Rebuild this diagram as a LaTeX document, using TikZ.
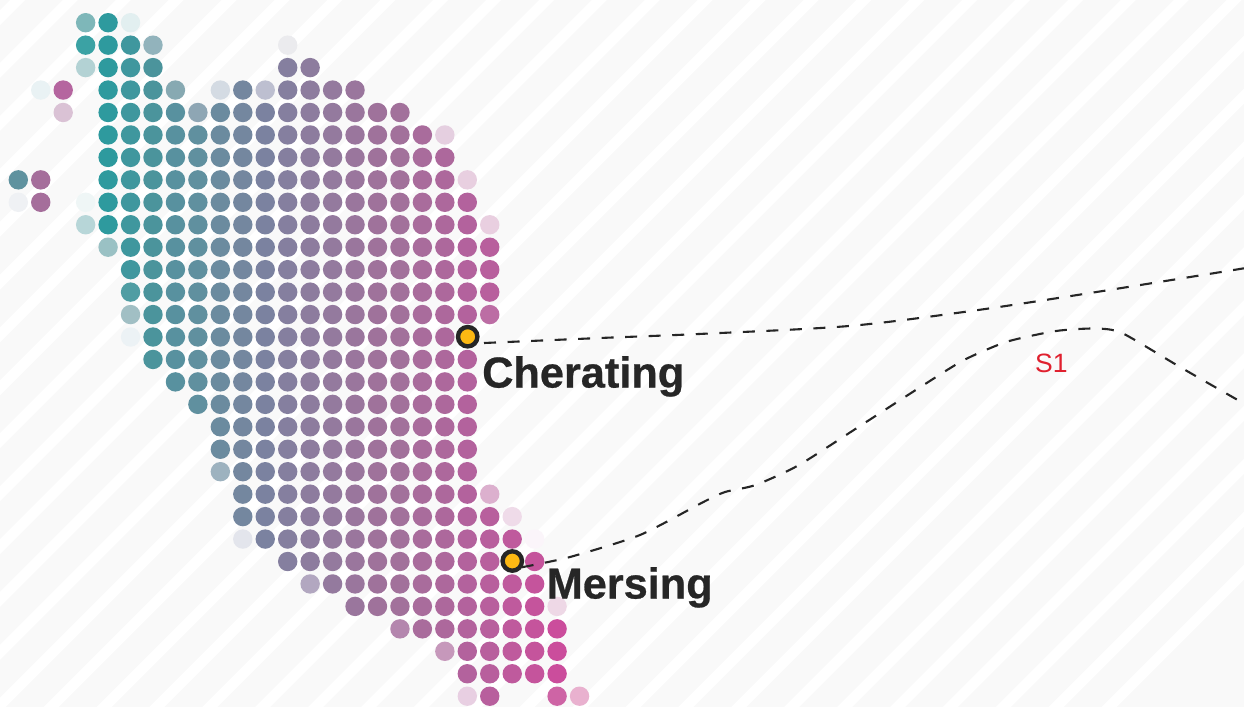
\documentclass[tikz,border=0pt]{standalone}
\usepackage{fontspec}
\setmainfont{Liberation Sans}
\newfontfamily\placefont[FakeBold=0.6]{Liberation Sans Bold}
\usetikzlibrary{calc}
\definecolor{bggrey}{HTML}{F9F9F9}
\definecolor{labelink}{HTML}{262626}
\definecolor{markfill}{HTML}{FDB913}
\definecolor{sred}{HTML}{E0202E}
\definecolor{col4}{HTML}{2E9A9E}
\definecolor{col5}{HTML}{3F979E}
\definecolor{col6}{HTML}{4B949C}
\definecolor{col7}{HTML}{58919F}
\definecolor{col8}{HTML}{60909F}
\definecolor{col9}{HTML}{6B8B9F}
\definecolor{col10}{HTML}{74879F}
\definecolor{col11}{HTML}{7B82A0}
\definecolor{col12}{HTML}{857F9F}
\definecolor{col13}{HTML}{8D7C9E}
\definecolor{col14}{HTML}{947A9E}
\definecolor{col15}{HTML}{9A769D}
\definecolor{col16}{HTML}{9F729B}
\definecolor{col17}{HTML}{A2719B}
\definecolor{col18}{HTML}{A96C9C}
\definecolor{col19}{HTML}{AD689C}
\definecolor{col20}{HTML}{B3629D}
\definecolor{col21}{HTML}{B85F9D}
\definecolor{col22}{HTML}{BF5A9D}
\definecolor{col23}{HTML}{C5549C}
\definecolor{col24}{HTML}{CB4D9C}
\tikzset{
  griddot/.style={radius=9.7pt},
  marker/.style={circle,draw=labelink,fill=markfill,line width=4.4pt,inner sep=0pt,outer sep=0pt,minimum size=19.4pt},
  place/.style={anchor=base west,text=labelink,inner sep=0pt,font=\fontsize{43.3}{43.3}\selectfont\placefont},
  routelabel/.style={anchor=base west,text=sred,inner sep=0pt,font=\fontsize{26.5}{26.5}\selectfont},
  route/.style={draw=labelink,line width=2.1pt,dash pattern=on 12pt off 11.55pt},
}
\begin{document}
\begin{tikzpicture}[x=1pt,y=-1pt]
\useasboundingbox (0,0) rectangle (1244,707);
\fill[bggrey] (0,0) rectangle (1244,707);
\begin{scope}
  \clip (0,0) rectangle (1244,707);
  \foreach \k in {-11,...,24} {
    \pgfmathsetmacro{\s}{554+52.9*\k}
    \fill[white] (\s,0) -- ({\s-15},0) -- ({\s-15-707},707) -- ({\s-707},707) -- cycle;
  }
\end{scope}
% solid dots: row / first column / last column
\foreach \r/\a/\b in {0/4/4,1/4/5,2/4/6,2/12/13,3/4/6,3/10/10,3/12/15,4/4/7,4/9/17,5/4/18,6/4/19,7/4/19,8/4/20,9/4/20,10/5/21,11/5/21,12/6/21,13/6/20,14/6/20,15/6/20,16/7/20,17/8/20,18/9/20,19/9/20,20/10/20,21/10/20,22/10/21,23/11/22,24/12/23,25/14/23,26/15/23,27/18/24,28/20/24,29/20/24,30/21/21} {
  \foreach \c in {\a,...,\b} {
    \fill[griddot,fill=col\c] ({18.3+22.45*\c},{22.7+22.45*\r}) circle[radius=9.7pt];
  }
}
% individually tinted dots: column / row / colour
\foreach \c/\r/\k in {3/0/7EB7B9,5/0/E2EFF0,3/1/3BA2A4,6/1/92B3BC,12/1/EBEBEE,3/2/B3D2D4,1/3/E9F2F4,2/3/B5659F,7/3/87A9B2,9/3/D4DBE3,11/3/BDBFD0,2/4/DAC2D5,8/4/8EA6B4,19/5/E5CFE0,0/7/5F929F,1/7/A56E9B,20/7/E8CFE0,0/8/EFF1F4,1/8/A56E9B,3/8/EFF6F6,3/9/B7D6D8,21/9/E9CFE0,4/10/9AC1C4,5/12/4F9DA3,5/13/A1BFC4,21/13/BC6DA4,5/14/ECF2F5,9/20/9DB2BF,21/21/DCB0CE,22/22/EFDBE9,10/23/E3E5EC,23/23/FBF5FA,13/25/B2A7C0,24/26/EED8E6,17/27/B486AE,19/28/C698BB,20/30/E8CFE2,24/30/CE64A5,25/30/E9B1CF} {
  \definecolor{tintdot}{HTML}{\k}
  \fill[griddot,fill=tintdot] ({18.3+22.45*\c},{22.7+22.45*\r}) circle[radius=9.7pt];
}
\coordinate (cherStart) at (484,343);
\coordinate (cherEnd) at (1262,265.4);
\coordinate (merStart) at (521.7,567.3);
\coordinate (merEnd) at (1240,401.3);
\draw[route] plot[smooth,tension=.5] coordinates {(cherStart) (600,338) (702.8,333.8) (849,326) (971,311) (1092,292.7) (cherEnd)};
\draw[route] plot[smooth,tension=.4] coordinates {(merStart) (570,557) (640,535) (702.8,502.3) (725,492) (755.6,485) (799,465) (861.5,425) (922,386) (964,360) (1007,341.7) (1056,331) (1095,328.5) (1122,333) (1180,367) (merEnd)};
\node[marker] (cher) at (467.7,336.7) {};
\node[marker] (mers) at (512.3,561) {};
\node[place] (cherlabel) at (482,387.5) {Cherating};
\node[place] (merlabel) at (546.5,598.5) {Mersing};
\node[routelabel] (s1) at (1035,372.5) {S1};
\end{tikzpicture}
\end{document}
